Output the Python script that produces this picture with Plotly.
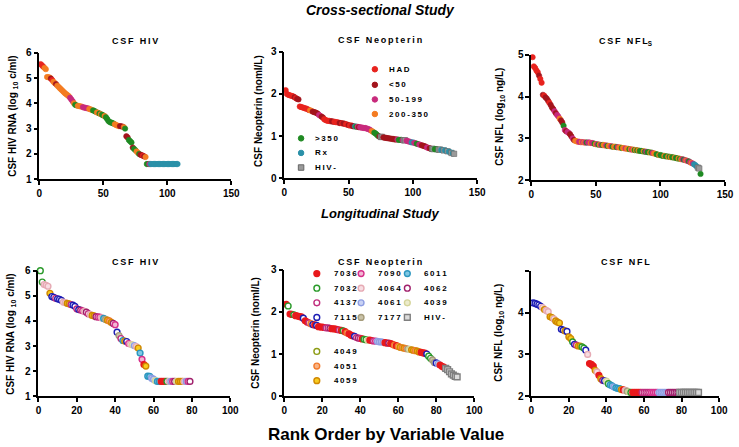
import plotly.graph_objects as go

W, H = 739, 447
FONTE = "Arial, Liberation Sans, sans-serif"

# ---------------- estudo transversal ----------------
# grupos: H=HAD, L=<50, M=50-199, O=200-350, G=>350, R=Rx, N=HIV-
hiv_cs = [5.55, 5.50, 5.45, 5.40, 5.35, 5.04, 5.03, 5.02, 4.98, 4.92,
          4.85, 4.80, 4.76, 4.70, 4.65, 4.60, 4.55, 4.50, 4.45, 4.40,
          4.36, 4.32, 4.28, 4.22, 4.15, 4.08, 4.00, 3.94, 3.92, 3.90,
          3.89, 3.88, 3.87, 3.85, 3.83, 3.82, 3.81, 3.80, 3.78, 3.76,
          3.74, 3.72, 3.70, 3.67, 3.64, 3.62, 3.60, 3.57, 3.55, 3.52,
          3.50, 3.45, 3.38, 3.30, 3.26, 3.24, 3.22, 3.20, 3.17, 3.14,
          3.12, 3.10, 3.10, 3.09, 3.08, 3.06, 3.00, 2.70, 2.65, 2.55,
          2.50, 2.45, 2.25, 2.20, 2.15, 2.10, 2.05, 2.00, 1.97, 1.95,
          1.93, 1.90, 1.88, 1.60, 1.60, 1.60, 1.60, 1.60, 1.60, 1.60,
          1.60, 1.60, 1.60, 1.60, 1.60, 1.60, 1.60, 1.60, 1.60, 1.60,
          1.60, 1.60, 1.60, 1.60, 1.60, 1.60, 1.60, 1.60]
hiv_cs_grp = ("HHHOOOOOLH" "OOLOOOOOOO" "OOOMMMOGGO" "OOOMMMMMOO"
              "OGGGOOGOGG" "OGGGGGGGOO" "OOLLLOGLLG" "GGLGGOOGLL"
              "HLOGGMRRRR" "RRRRRRRRRR" "RRRRRRRR")

neo_cs = [2.09, 2.00, 1.98, 1.97, 1.96, 1.95, 1.94, 1.92, 1.90, 1.88,
          1.87, 1.70, 1.69, 1.68, 1.67, 1.66, 1.65, 1.64, 1.62, 1.61,
          1.60, 1.58, 1.57, 1.56, 1.55, 1.53, 1.50, 1.48, 1.46, 1.44,
          1.40, 1.38, 1.37, 1.36, 1.36, 1.35, 1.35, 1.34, 1.34, 1.33,
          1.33, 1.32, 1.31, 1.31, 1.30, 1.30, 1.29, 1.28, 1.27, 1.26,
          1.25, 1.25, 1.24, 1.23, 1.23, 1.22, 1.22, 1.21, 1.21, 1.20,
          1.20, 1.19, 1.19, 1.18, 1.17, 1.16, 1.14, 1.12, 1.10, 1.08,
          1.06, 1.03, 1.00, 0.99, 0.98, 0.98, 0.97, 0.96, 0.96, 0.95,
          0.95, 0.94, 0.94, 0.93, 0.93, 0.92, 0.92, 0.92, 0.91, 0.91,
          0.91, 0.90, 0.90, 0.90, 0.89, 0.88, 0.87, 0.86, 0.85, 0.85,
          0.84, 0.83, 0.82, 0.81, 0.80, 0.79, 0.78, 0.77, 0.76, 0.75,
          0.73, 0.72, 0.71, 0.70, 0.70, 0.69, 0.69, 0.69, 0.68, 0.68,
          0.68, 0.67, 0.67, 0.66, 0.66, 0.65, 0.64, 0.63, 0.62, 0.60,
          0.59, 0.58]
neo_cs_grp = ("HHHHHHHLHL" "LHHHHHHHHO" "OLLLLLMMLL" "HHHHHHLLHH"
              "HHLLHLLHHL" "HHLLRGMLMM" "MMMMMMMOOG" "GGGLNNLLLL"
              "LLLLLLLMGG" "GMNNMMMMRR" "MMGGMMLLLL" "MMLLNNGGGN"
              "NRRNRRNRRN" "RN")

nfl_cs = [4.94, 4.72, 4.68, 4.62, 4.58, 4.50, 4.42, 4.33, 4.04, 4.02,
          3.98, 3.95, 3.90, 3.85, 3.80, 3.74, 3.70, 3.65, 3.60, 3.56,
          3.52, 3.47, 3.43, 3.38, 3.30, 3.20, 3.17, 3.15, 3.13, 3.10,
          3.05, 3.00, 2.96, 2.94, 2.93, 2.92, 2.92, 2.91, 2.91, 2.91,
          2.90, 2.90, 2.90, 2.90, 2.90, 2.89, 2.89, 2.88, 2.87, 2.86,
          2.86, 2.85, 2.85, 2.84, 2.84, 2.84, 2.83, 2.83, 2.82, 2.82,
          2.81, 2.81, 2.80, 2.80, 2.80, 2.79, 2.79, 2.78, 2.78, 2.77,
          2.77, 2.76, 2.76, 2.75, 2.75, 2.74, 2.74, 2.73, 2.73, 2.72,
          2.72, 2.71, 2.71, 2.70, 2.70, 2.69, 2.69, 2.68, 2.68, 2.67,
          2.67, 2.66, 2.66, 2.65, 2.64, 2.63, 2.62, 2.61, 2.60, 2.60,
          2.59, 2.58, 2.58, 2.57, 2.57, 2.56, 2.56, 2.55, 2.55, 2.54,
          2.54, 2.53, 2.52, 2.52, 2.51, 2.50, 2.50, 2.49, 2.48, 2.47,
          2.46, 2.45, 2.43, 2.41, 2.40, 2.38, 2.36, 2.33, 2.30, 2.28,
          2.15]
nfl_cs_grp = ("HHHHHLHHLH" "LLLHLLLMLM" "MOLLGMLMML" "LMLOOOMMOM"
              "OMGMMOMMGO" "MGOMGOOMGO" "OMGOOGMOOG" "OOMOOGOMOG"
              "OGOGGGOGMG" "GOGMOOGGOG" "GGOGGOGOGG" "OGGOGOMGMO"
              "MGMOMRRRNN" "G")

grupos_cs = ["H", "L", "M", "O", "G", "R", "N"]
nomes_cs = ["HAD", "<50", "50-199", "200-350", ">350", "Rx", "HIV-"]
cores_cs = {"H": "#e8231e", "L": "#a3141c", "M": "#c82a7c", "O": "#f47c22",
            "G": "#1f8a22", "R": "#2a90a8", "N": "#9a9a9a"}

# ---------------- estudo longitudinal ----------------
hiv_lg = [6.00, 5.55, 5.45, 5.42, 5.38, 5.10, 4.97, 4.94, 4.90, 4.88,
          4.86, 4.82, 4.75, 4.73, 4.70, 4.68, 4.65, 4.63, 4.58, 4.48,
          4.45, 4.43, 4.40, 4.38, 4.35, 4.29, 4.25, 4.22, 4.20, 4.17,
          4.16, 4.15, 4.12, 4.10, 4.06, 4.03, 4.00, 3.94, 3.90, 3.85,
          3.55, 3.42, 3.30, 3.22, 3.20, 3.18, 3.10, 3.07, 3.05, 3.02,
          2.98, 2.92, 2.72, 2.47, 2.26, 2.20, 1.80, 1.79, 1.72, 1.68,
          1.62, 1.59, 1.59, 1.59, 1.59, 1.59, 1.59, 1.59, 1.59, 1.59,
          1.59, 1.59, 1.59, 1.59, 1.59, 1.59, 1.59, 1.59, 1.59]
hiv_lg_id = ["7032", "7032", "4064", "4064", "4064", "4059", "7115", "7115", "4137", "7115",
             "7115", "7115", "4064", "4064", "4059", "4059", "4137", "7115", "7115", "4137",
             "7115", "4062", "7090", "4064", "4062", "4137", "4064", "4059", "4059", "4062",
             "4137", "7090", "4064", "6011", "7177", "4059", "4051", "4059", "4062", "7090",
             "7115", "7177", "4137", "6011", "4059", "7115", "7090", "4064", "4039", "4061",
             "4064", "4059", "6011", "7090", "7036", "4059", "6011", "6011", "4061", "4061",
             "4039", "6011", "6011", "7036", "7036", "7036", "7032", "4064", "4061", "7090",
             "4062", "4039", "4059", "4059", "4059", "4064", "4061", "7090", "4062"]

neo_lg = [2.18, 2.14, 1.95, 1.94, 1.93, 1.91, 1.90, 1.89, 1.88, 1.85,
          1.79, 1.76, 1.74, 1.72, 1.70, 1.69, 1.68, 1.65, 1.64, 1.64,
          1.63, 1.62, 1.62, 1.61, 1.60, 1.60, 1.59, 1.58, 1.57, 1.56,
          1.55, 1.53, 1.50, 1.48, 1.45, 1.43, 1.42, 1.39, 1.38, 1.37,
          1.36, 1.35, 1.34, 1.33, 1.33, 1.32, 1.31, 1.31, 1.30, 1.29,
          1.29, 1.28, 1.27, 1.26, 1.26, 1.25, 1.23, 1.21, 1.20, 1.18,
          1.16, 1.15, 1.14, 1.13, 1.12, 1.11, 1.10, 1.09, 1.08, 1.07,
          1.05, 1.04, 1.03, 1.02, 1.00, 0.95, 0.90, 0.86, 0.80, 0.79,
          0.77, 0.74, 0.71, 0.69, 0.66, 0.63, 0.58, 0.53, 0.50, 0.47,
          0.46]
neo_lg_id = ["7036", "7032", "7036", "7036", "7032", "7036", "7036", "7036", "7036", "7115",
             "7036", "7036", "4137", "4051", "7115", "7036", "7115", "7036", "7036", "7036",
             "7036", "4137", "4137", "4062", "7036", "7036", "7036", "7036", "4137", "7036",
             "7032", "7036", "4051", "7036", "7036", "7036", "7115", "4137", "4062", "4137",
             "7036", "7032", "7032", "4039", "7036", "7036", "4137", "7090", "4061", "4061",
             "4061", "4061", "7036", "7036", "4062", "7036", "7036", "4051", "7036", "4051",
             "4059", "4051", "4059", "4051", "7177", "4039", "4059", "4059", "4051", "4059",
             "4059", "7036", "7036", "7036", "7115", "7032", "7032", "7177", "7177", "7115",
             "4061", "7036", "7036", "7036", "HIV-", "HIV-", "HIV-", "HIV-", "HIV-", "HIV-",
             "HIV-"]

nfl_lg = [4.23, 4.22, 4.20, 4.18, 4.15, 4.12, 4.07, 4.05, 4.02, 3.90,
          3.88, 3.85, 3.80, 3.77, 3.75, 3.60, 3.58, 3.56, 3.55, 3.42,
          3.38, 3.30, 3.24, 3.22, 3.20, 3.20, 3.18, 3.15, 3.10, 3.00,
          2.78, 2.76, 2.72, 2.62, 2.58, 2.50, 2.42, 2.38, 2.37, 2.36,
          2.30, 2.27, 2.25, 2.22, 2.20, 2.19, 2.18, 2.16, 2.15, 2.14,
          2.12, 2.10, 2.09, 2.09, 2.09, 2.09, 2.09, 2.09, 2.09, 2.09,
          2.09, 2.09, 2.09, 2.09, 2.09, 2.09, 2.09, 2.09, 2.09, 2.09,
          2.09, 2.09, 2.09, 2.09, 2.09, 2.09, 2.09, 2.09, 2.09, 2.09,
          2.09, 2.09, 2.09, 2.09, 2.09, 2.09, 2.09, 2.09, 2.09]
nfl_lg_id = ["7115", "7115", "7115", "7115", "7115", "4064", "4059", "4064", "4064", "4059",
             "4059", "4064", "4059", "4059", "4059", "7115", "7115", "4059", "7115", "4059",
             "4059", "7032", "7115", "4137", "4059", "4059", "7032", "7032", "7115", "4064",
             "7036", "7036", "7036", "4059", "4064", "7036", "4059", "4062", "7115", "4039",
             "7032", "6011", "6011", "4061", "6011", "6011", "6011", "4059", "7036", "4064",
             "7177", "4039", "7032", "7036", "7036", "7036", "7036", "7036", "4137", "4137",
             "4137", "4137", "4137", "7090", "7090", "7090", "7090", "4061", "4061", "4061",
             "4061", "4061", "4062", "4062", "4062", "4062", "4062", "4062", "HIV-", "HIV-",
             "HIV-", "HIV-", "HIV-", "HIV-", "HIV-", "HIV-", "HIV-", "HIV-", "HIV-"]

# cor da borda e do preenchimento de cada paciente
cores_lg = {
    "7036": ("#e8191c", "#e8191c"), "7032": ("#2a9a2a", "#ffffff"),
    "4137": ("#c02d7d", "#ffffff"), "7115": ("#1c1cb4", "#ffffff"),
    "7090": ("#d62f8a", "#f3b8d4"), "4064": ("#e6aab4", "#f7dde2"),
    "4061": ("#8e9ee2", "#c9d2f4"), "7177": ("#a69c7c", "#c9c2a8"),
    "6011": ("#2b96bf", "#7fc8e4"), "4062": ("#a0206c", "#ffffff"),
    "4039": ("#d4d49a", "#ececcc"), "4049": ("#8c9c14", "#ffffff"),
    "4051": ("#f27a2c", "#f9b384"), "4059": ("#d08800", "#f8cc20"),
    "HIV-": ("#7f7f7f", "#dcdcdc"),
}


def px(x):
    return x / W


def py(y):
    return 1 - y / H


def espacado(t):
    return "\u2009".join(t).replace("<", "&lt;")


def fonte(tam, **kw):
    return dict(family=FONTE, size=tam, color="black", weight="bold", **kw)


# paineis em pixels: x0, x1, y topo, y base, faixa x, dtick x, faixa y
paineis = [
    (37, 232, 48, 178, [0, 150], 50, [1, 6]),
    (286, 482, 47, 177, [0, 150], 50, [0, 3]),
    (537, 734, 50, 179, [0, 150], 50, [2, 5]),
    (36, 231, 272, 401, [0, 100], 20, [1, 6]),
    (286, 479, 271, 401, [0, 100], 20, [0, 3]),
    (537, 728, 272, 401, [0, 100], 20, [2, 5]),
]

fig = go.Figure()
layout = {}
for i, (x0, x1, yt, yb, fx, dx, fy) in enumerate(paineis, start=1):
    sx = "" if i == 1 else str(i)
    eixo = dict(showline=True, linecolor="black", linewidth=1.6, ticks="outside",
                ticklen=4, tickwidth=1.5, tickcolor="black", showgrid=False,
                zeroline=False, tickfont=fonte(10), fixedrange=True)
    layout["xaxis" + sx] = dict(eixo, domain=[px(x0), px(x1)], range=fx, dtick=dx,
                                tick0=0, anchor="y" + sx)
    ey = dict(eixo, domain=[py(yb), py(yt)], range=fy, dtick=1, anchor="x" + sx)
    if i == 6:
        ey.update(tickmode="array", tickvals=[2, 3, 4, 5], ticktext=["2", "3", "4", ""])
    layout["yaxis" + sx] = ey

# eixo invisivel em pixels para as legendas desenhadas
layout["xaxis7"] = dict(domain=[0, 1], range=[0, W], visible=False, fixedrange=True)
layout["yaxis7"] = dict(domain=[0, 1], range=[H, 0], visible=False, fixedrange=True)

# transversal
for k, (vals, grp) in enumerate([(hiv_cs, hiv_cs_grp), (neo_cs, neo_cs_grp),
                                 (nfl_cs, nfl_cs_grp)], start=1):
    sx = "" if k == 1 else str(k)
    fig.add_trace(go.Scatter(
        x=list(range(1, len(vals) + 1)), y=vals, mode="markers",
        xaxis="x" + sx, yaxis="y" + sx, cliponaxis=False, showlegend=False,
        marker=dict(size=5.4,
                    symbol=["square" if g == "N" else "circle" for g in grp],
                    color=[cores_cs[g] for g in grp],
                    line=dict(width=0.6,
                              color=["#666666" if g == "N" else cores_cs[g] for g in grp]))))

# longitudinal
for k, (vals, ids) in enumerate([(hiv_lg, hiv_lg_id), (neo_lg, neo_lg_id),
                                 (nfl_lg, nfl_lg_id)], start=4):
    fig.add_trace(go.Scatter(
        x=list(range(1, len(vals) + 1)), y=vals, mode="markers",
        xaxis="x" + str(k), yaxis="y" + str(k), cliponaxis=False, showlegend=False,
        marker=dict(size=5.8,
                    symbol=["square" if s == "HIV-" else "circle" for s in ids],
                    color=[cores_lg[s][1] for s in ids],
                    line=dict(width=1.4, color=[cores_lg[s][0] for s in ids]))))

# legendas (posicoes em pixels)
leg_cs_pos = [(378, 65), (378, 81), (378, 96), (378, 111), (303, 136), (303, 151), (303, 166)]
leg_lg_ids = ["7036", "7032", "4137", "7115", "7090", "4064", "4061", "7177",
              "6011", "4062", "4039", "HIV-", "4049", "4051", "4059"]
leg_lg_pos = [(319, 275), (319, 290), (319, 305), (319, 320),
              (364, 275), (364, 290), (364, 305), (364, 320),
              (411, 275), (411, 290), (411, 305), (411, 320),
              (319, 355), (319, 370), (319, 385)]

fig.add_trace(go.Scatter(
    x=[p[0] for p in leg_cs_pos], y=[p[1] for p in leg_cs_pos], mode="markers",
    xaxis="x7", yaxis="y7", showlegend=False, hoverinfo="skip",
    marker=dict(size=5.5, symbol=["square" if g == "N" else "circle" for g in grupos_cs],
                color=[cores_cs[g] for g in grupos_cs],
                line=dict(width=1, color=["#666666" if g == "N" else cores_cs[g] for g in grupos_cs]))))
fig.add_trace(go.Scatter(
    x=[p[0] for p in leg_lg_pos], y=[p[1] for p in leg_lg_pos], mode="markers",
    xaxis="x7", yaxis="y7", showlegend=False, hoverinfo="skip",
    marker=dict(size=5.8, symbol=["square" if s == "HIV-" else "circle" for s in leg_lg_ids],
                color=[cores_lg[s][1] for s in leg_lg_ids],
                line=dict(width=1.4, color=[cores_lg[s][0] for s in leg_lg_ids]))))

anots = []
for nome, (x, y) in zip(nomes_cs, leg_cs_pos):
    anots.append(dict(text=espacado(nome), x=px(x + 12), y=py(y), xanchor="left",
                      yanchor="middle", font=fonte(8)))
for nome, (x, y) in zip(leg_lg_ids, leg_lg_pos):
    anots.append(dict(text=espacado(nome), x=px(x + 15), y=py(y), xanchor="left",
                      yanchor="middle", font=fonte(8)))

# titulos dos paineis
titulos = [
    (espacado("CSF HIV"), 134, 36), (espacado("CSF Neopterin"), 383, 35),
    (espacado("CSF NFL") + "<sub>S</sub>", 633, 36),
    (espacado("CSF HIV"), 134, 263), (espacado("CSF Neopterin"), 383, 263),
    (espacado("CSF NFL"), 633, 263),
]
for t, x, y in titulos:
    anots.append(dict(text=t, x=px(x), y=py(y), xanchor="center", yanchor="middle",
                      font=fonte(9)))

# titulos dos eixos y
rot_hiv = "CSF HIV RNA (log <sub>10</sub> c/ml)"
rot_neo = "CSF Neopterin (nomI/L)"
rot_nfl = "CSF NFL (log<sub>10</sub> ng/L)"
for t, x, y in [(rot_hiv, 10, 113), (rot_neo, 259, 108), (rot_nfl, 505, 114),
                (rot_hiv, 8, 337), (rot_neo, 257, 336), (rot_nfl, 504, 336)]:
    anots.append(dict(text=t, x=px(x), y=py(y), xanchor="center", yanchor="middle",
                      textangle=-90, font=fonte(10)))

anots.append(dict(text="Cross-sectional Study", x=px(384), y=py(4), xanchor="center",
                  yanchor="middle", font=fonte(14, style="italic")))
anots.append(dict(text="Longitudinal Study", x=px(383), y=py(213), xanchor="center",
                  yanchor="middle", font=fonte(13, style="italic")))
anots.append(dict(text="Rank Order by Variable Value", x=px(389), y=py(440),
                  xanchor="center", yanchor="middle", font=fonte(17)))

for a in anots:
    a.update(xref="paper", yref="paper", showarrow=False)

fig.update_layout(width=W, height=H, margin=dict(l=0, r=0, t=0, b=0),
                  plot_bgcolor="rgba(0,0,0,0)", paper_bgcolor="white",
                  showlegend=False, annotations=anots, **layout)

# sem a margem padrao do body a figura ocupa a janela inteira
fig.write_html("out.html", config={"displayModeBar": False},
               post_script="document.body.style.margin='0';"
                           "document.documentElement.style.overflow='hidden';")
